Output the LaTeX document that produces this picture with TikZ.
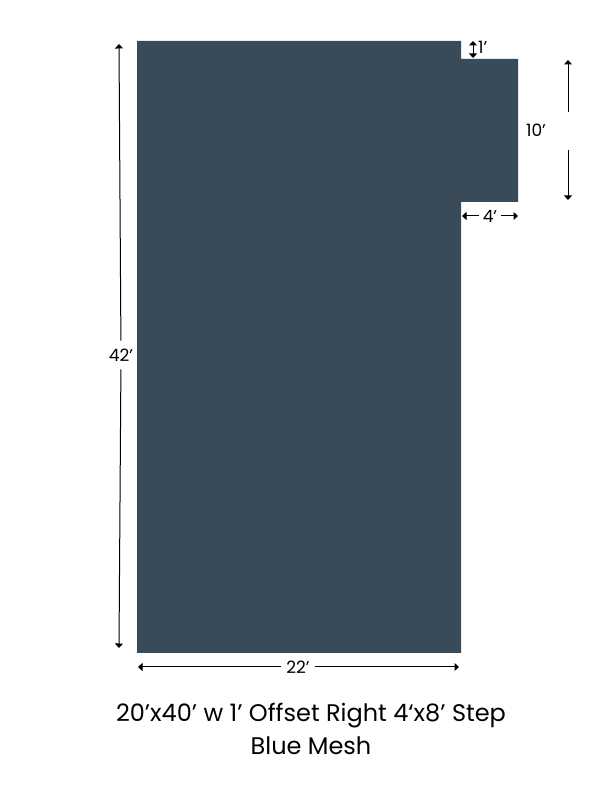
\documentclass[tikz,border=0pt]{standalone}
\usepackage{fontspec}
\setmainfont{Poppins}
\usetikzlibrary{arrows.meta}
\definecolor{mesh}{RGB}{57,74,89}
\tikzset{
  dim/.style={line width=1pt, -{Triangle[length=4.5pt,width=8pt]}},
  dimboth/.style={line width=1pt, {Triangle[length=4.5pt,width=8pt]}-{Triangle[length=4.5pt,width=8pt]}},
  lbl/.style={font=\fontsize{17}{19}\selectfont, inner sep=1pt},
  title/.style={font=\fontsize{24}{28}\selectfont, align=center}
}
\begin{document}
\begin{tikzpicture}[x=1pt,y=1pt]
\useasboundingbox (0,0) rectangle (612,792);
% shape
\fill[mesh] (137,751) -- (461,751) -- (461,733) -- (518,733) -- (518,590) -- (461,590) -- (461,139) -- (137,139) -- cycle;
% 42'
\node[lbl, fill=white, inner ysep=8pt] (l42) at (121,437) {42'};
\coordinate (l42t) at (119,748);
\coordinate (l42b) at (119,144);
\draw[dim] (l42) -- (l42t);
\draw[dim] (l42) -- (l42b);
% 22'
\node[lbl, fill=white, inner xsep=5pt] (l22) at (298,125) {22'};
\coordinate (l22l) at (138,125);
\coordinate (l22r) at (459,125);
\draw[dim] (l22) -- (l22l);
\draw[dim] (l22) -- (l22r);
% 1'
\coordinate (o1t) at (473,751);
\coordinate (o1b) at (473,734);
\draw[dimboth] (o1t) -- (o1b);
\node[lbl, anchor=west] (l1) at (477,745) {1'};
% 10'
\node[lbl] (l10) at (536,662) {10'};
\coordinate (t10a) at (568,680);
\coordinate (t10b) at (568,732);
\coordinate (b10a) at (568,642);
\coordinate (b10b) at (568,592);
\draw[dim] (t10a) -- (t10b);
\draw[dim] (b10a) -- (b10b);
% 4'
\node[lbl, fill=white, inner xsep=4pt] (l4) at (490,576) {4'};
\coordinate (l4l) at (462,576);
\coordinate (l4r) at (518,576);
\draw[dim] (l4) -- (l4l);
\draw[dim] (l4) -- (l4r);
% title
\node[title] (t1) at (311,76) {20’x40’ w 1’ Offset Right 4‘x8’ Step};
\node[title] (t2) at (311,46) {Blue Mesh};
\end{tikzpicture}
\end{document}
